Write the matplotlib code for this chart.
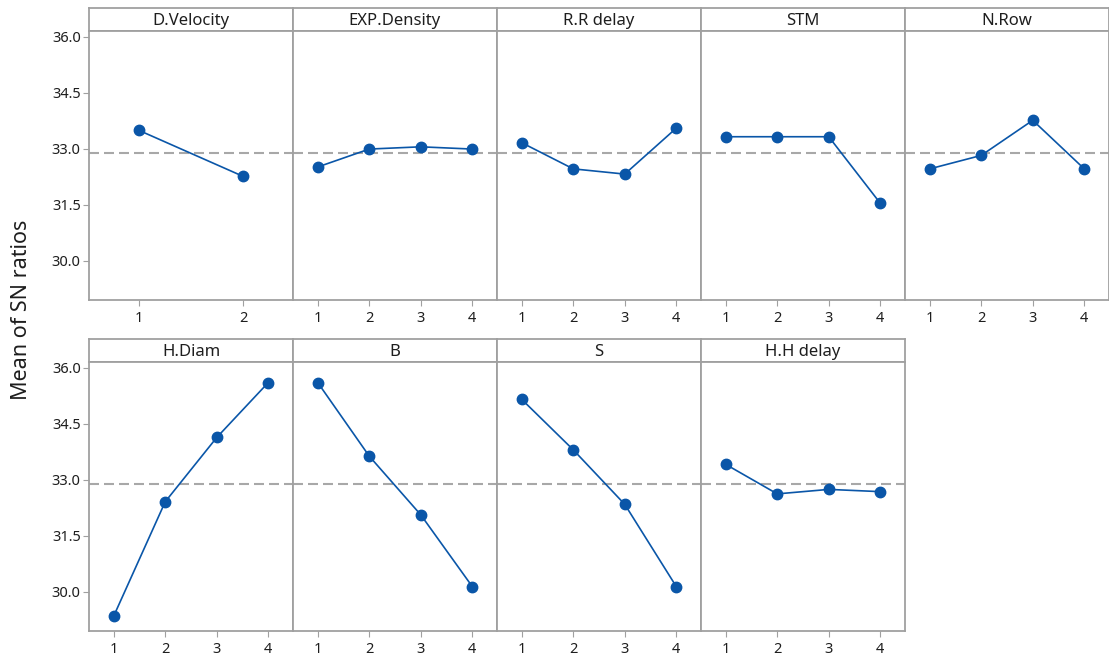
import numpy as np
import matplotlib.pyplot as plt

plt.rcParams['font.family'] = ['Noto Sans', 'DejaVu Sans']

# mean SN ratio per factor level
factors = ["D.Velocity", "EXP.Density", "R.R delay", "STM", "N.Row",
           "H.Diam", "B", "S", "H.H delay"]
d_velocity = [33.49, 32.26]
exp_density = [32.51, 32.99, 33.05, 32.99]
rr_delay = [33.16, 32.46, 32.32, 33.55]
stm = [33.32, 33.32, 33.32, 31.54]
n_row = [32.46, 32.82, 33.76, 32.46]
h_diam = [29.35, 32.41, 34.13, 35.60]
b_vals = [35.60, 33.63, 32.06, 30.14]
s_vals = [35.15, 33.80, 32.34, 30.14]
hh_delay = [33.41, 32.62, 32.74, 32.68]
grand_mean = 32.89

y_ticks = [30.0, 31.5, 33.0, 34.5, 36.0]

series = [d_velocity, exp_density, rr_delay, stm, n_row,
          h_diam, b_vals, s_vals, hh_delay]

W, H = 1109, 660
fig = plt.figure(figsize=(W / 100, H / 100), dpi=100)


def px_axes(x0, y0, x1, y1):
    return fig.add_axes([x0 / W, 1 - y1 / H, (x1 - x0) / W, (y1 - y0) / H])


frame = '#a0a0a0'
blue = '#0a56a8'
ink = '#1e1e1e'

for idx, (name, vals) in enumerate(zip(factors, series)):
    row, col = divmod(idx, 5)
    x0 = 89 + col * 204
    x1 = x0 + 204
    top = 8 if row == 0 else 339

    # strip with factor name
    sax = px_axes(x0, top, x1, top + 23)
    sax.set_xticks([])
    sax.set_yticks([])
    for sp in sax.spines.values():
        sp.set_color(frame)
        sp.set_linewidth(1.3)
    sax.text(0.5, 0.42, name, ha='center', va='center', fontsize=12,
             color=ink, transform=sax.transAxes)

    ax = px_axes(x0, top + 23, x1, top + 292)
    levels = np.arange(1, len(vals) + 1)
    ax.axhline(grand_mean, color='#a8a8a8', ls=(0, (4.8, 2.4)), lw=1.5, zorder=1)
    ax.plot(levels, vals, color=blue, lw=1.2, marker='o', ms=7.5, zorder=3)
    ax.set_xlim(0.52, len(vals) + 0.48)
    ax.set_ylim(28.95, 36.15)
    ax.set_xticks(levels)
    ax.set_yticks(y_ticks)
    if col == 0:
        ax.set_yticklabels([f'{t:.1f}' for t in y_ticks])
        ax.tick_params(axis='y', length=4, color=frame, labelsize=10.5,
                       labelcolor=ink, pad=2)
    else:
        ax.tick_params(axis='y', length=0, labelleft=False)
    ax.tick_params(axis='x', length=4, color=frame, labelsize=10.5,
                   labelcolor=ink, pad=4)
    for sp in ax.spines.values():
        sp.set_color(frame)
        sp.set_linewidth(1.3)

fig.text(22 / W, 1 - 310 / H, 'Mean of SN ratios', rotation=90,
         ha='center', va='center', fontsize=15.5, color=ink)

fig.savefig('out.png', dpi=100)
